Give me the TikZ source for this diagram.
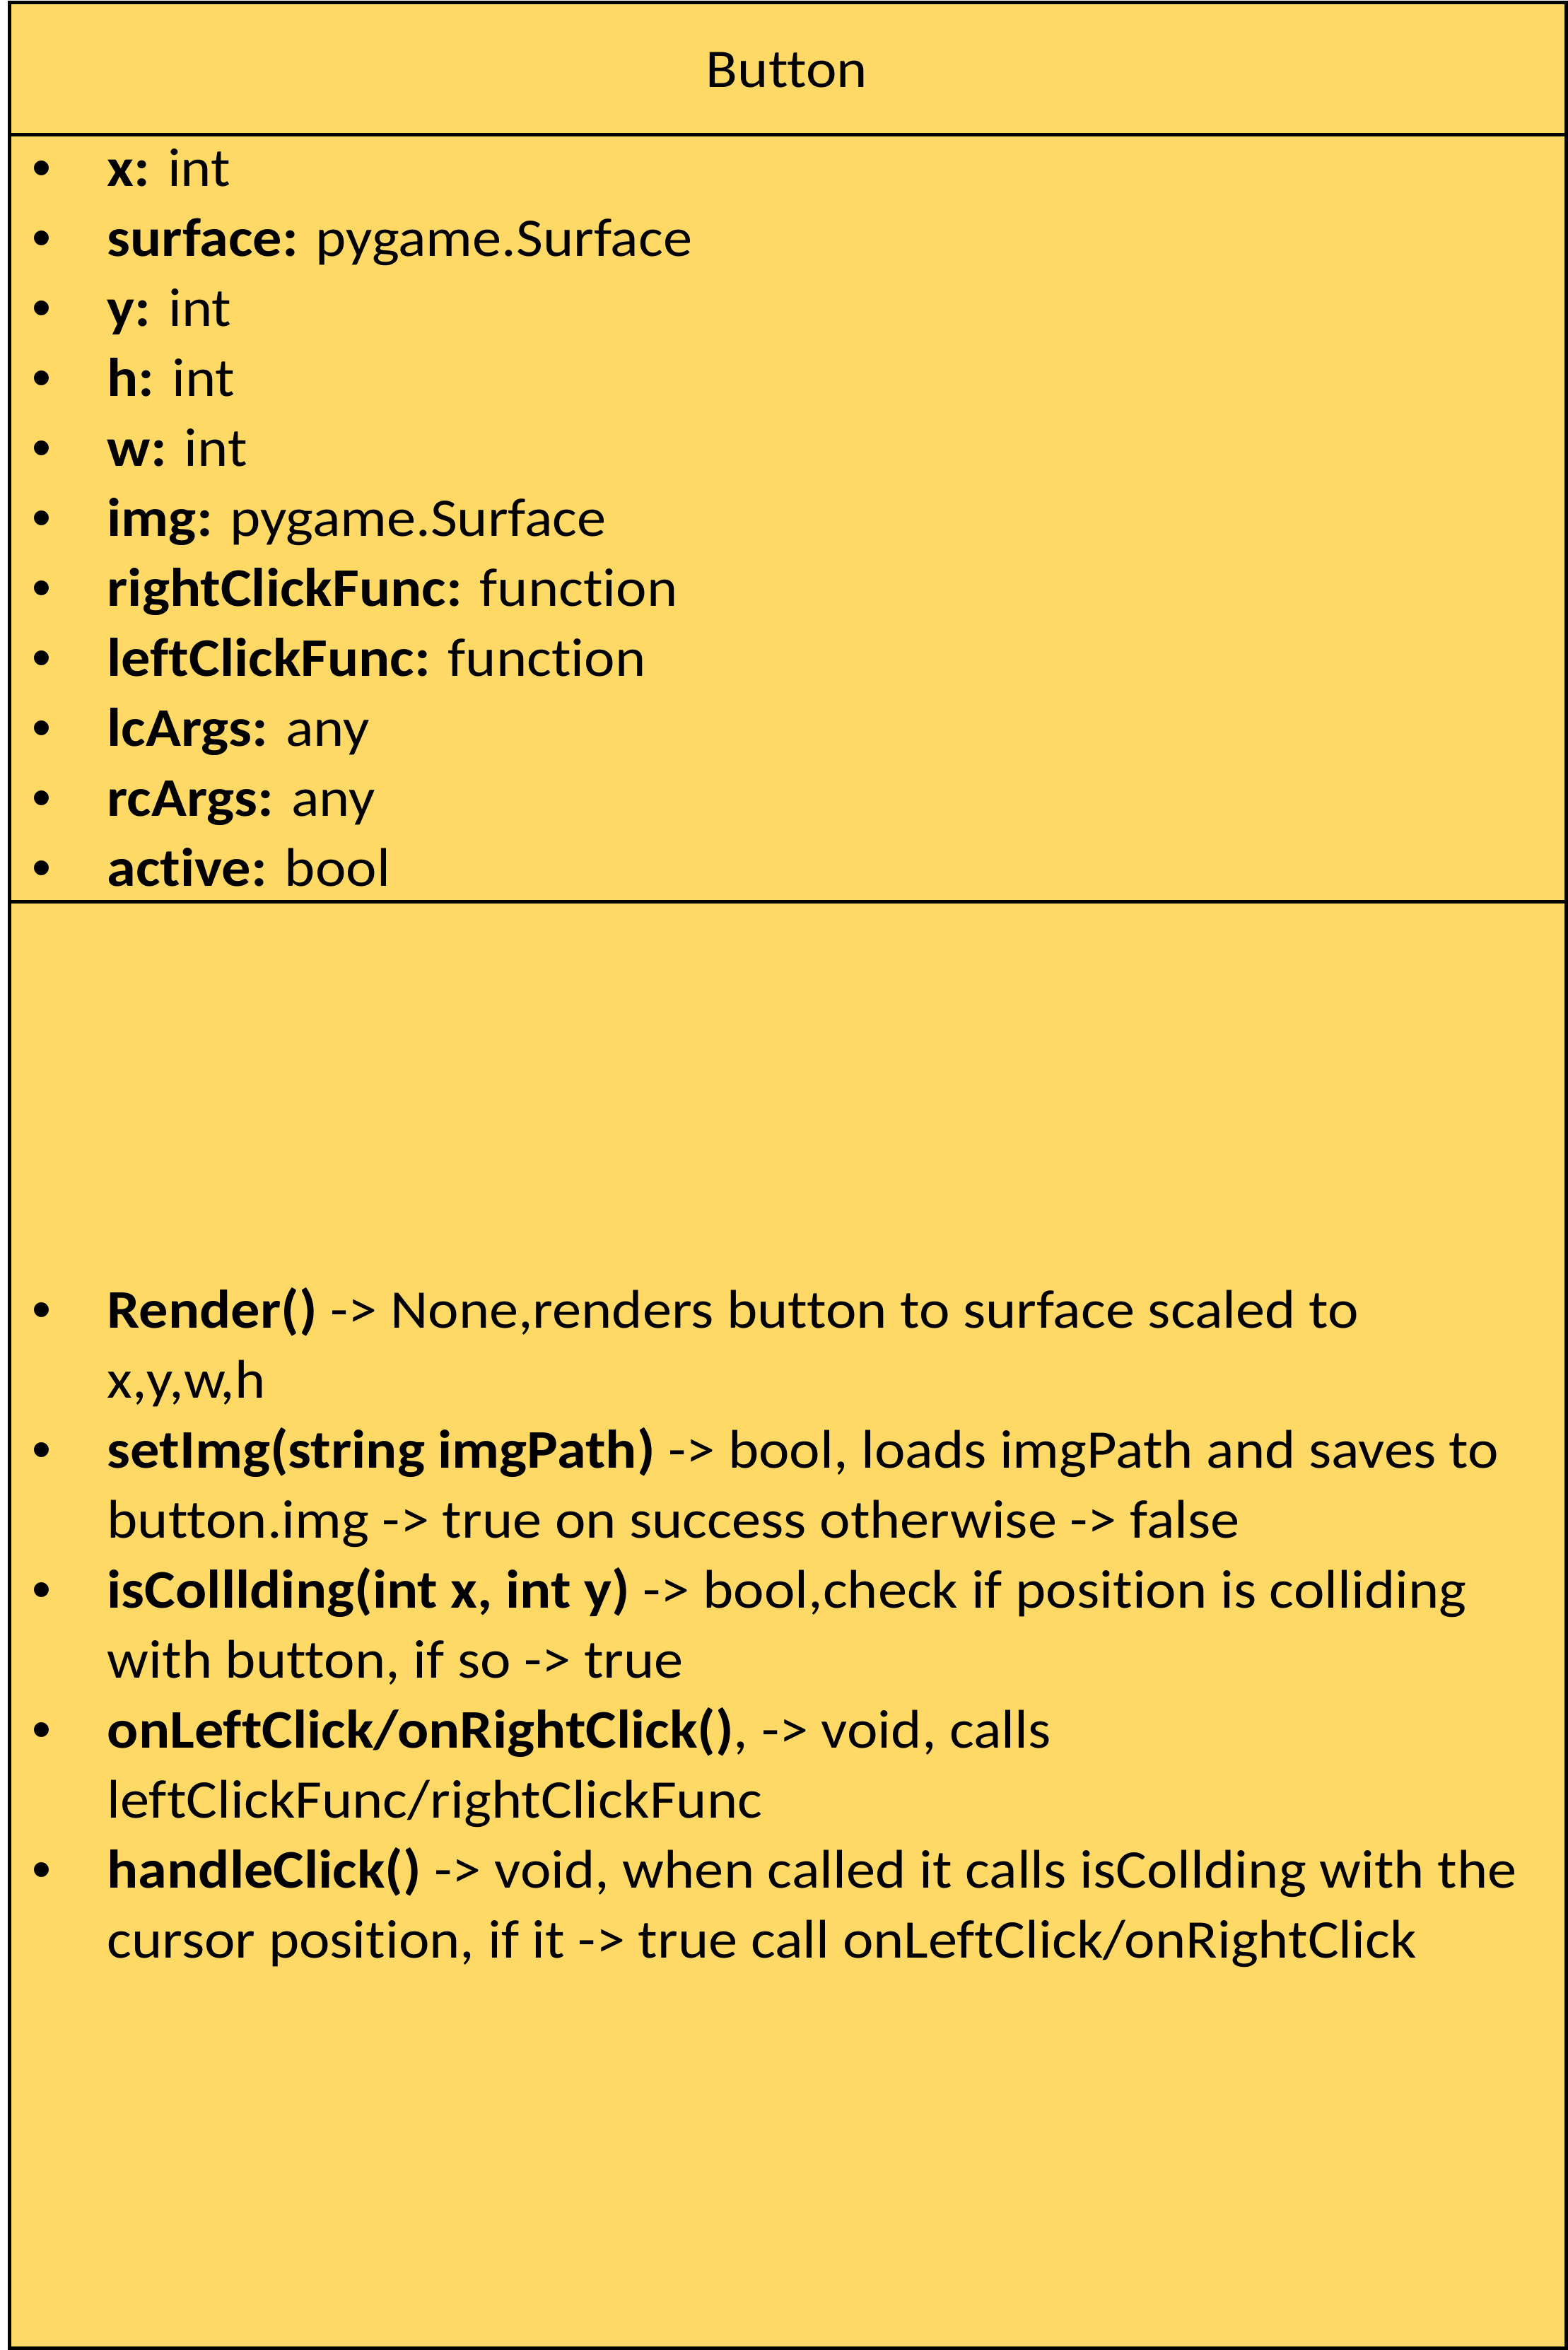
\documentclass[tikz,border=0pt]{standalone}
\usepackage{fontspec}
\setmainfont{Carlito}[Ligatures=NoCommon, FakeStretch=1.07]
\newfontfamily\bulletfont{Liberation Sans}
\usepackage{array}
\definecolor{classfill}{HTML}{FFD966}
\newcommand{\bul}{{\bulletfont\textbullet}}
\tikzset{
	classbox/.style={draw=black, line width=0.05cm, fill=classfill},
	divider/.style={draw=black, line width=0.05cm},
	member/.style={anchor=base west, inner sep=0pt, font=\fontsize{0.77cm}{0.99cm}\selectfont},
}
\begin{document}
\begin{tikzpicture}
			\useasboundingbox (0,0) rectangle (22.18,-33.24);
			\draw[classbox] (0.13,-0.03) rectangle (22.15,-33.21);
			\draw[divider] (0.13,-1.90) -- (22.15,-1.90);
			\draw[divider] (0.13,-12.75) -- (22.15,-12.75);
			
			\node[member, anchor=base] (title) at (11.13,-1.23) {Button};
			
			\node[member] (attrs) at (0.45,-2.63) {\begin{tabular}[t]{@{}p{1.06cm}@{}l@{}}
				\bul & \textbf{x:} int\\
				\bul & \textbf{surface:} pygame.Surface\\
				\bul & \textbf{y:} int\\
				\bul & \textbf{h:} int\\
				\bul & \textbf{w:} int\\
				\bul & \textbf{img:} pygame.Surface\\
				\bul & \textbf{rightClickFunc:} function\\
				\bul & \textbf{leftClickFunc:} function\\
				\bul & \textbf{lcArgs:} any\\
				\bul & \textbf{rcArgs:} any\\
				\bul & \textbf{active:} bool
			\end{tabular}};
			
			\node[member] (meths) at (0.45,-18.78) {\begin{tabular}[t]{@{}p{1.06cm}@{}l@{}}
				\bul & \textbf{Render()} -> None,renders button to surface scaled to\\
				& x,y,w,h\\
				\bul & \textbf{setImg(string imgPath)} -> bool, loads imgPath and saves to\\
				& button.img -> true on success otherwise -> false\\
				\bul & \textbf{isColllding(int x, int y)} -> bool,check if position is colliding\\
				& with button, if so -> true\\
				\bul & \textbf{onLeftClick/onRightClick()}, -> void, calls\\
				& leftClickFunc/rightClickFunc\\
				\bul & \textbf{handleClick()} -> void, when called it calls isCollding with the\\
				& cursor position, if it -> true call onLeftClick/onRightClick
			\end{tabular}};
		\end{tikzpicture}
\end{document}
